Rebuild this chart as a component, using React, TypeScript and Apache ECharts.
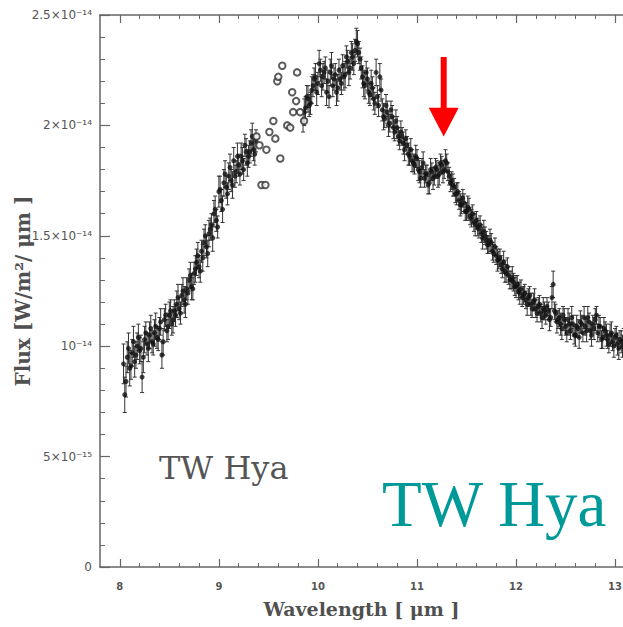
import React, { useEffect, useRef } from "react";
import * as echarts from "echarts";

// Spectrum of TW Hya, flux in units of 1e-14 W/m^2/um (two interleaved samplings)
const wavelengths = [
  8.050, 8.075, 8.100, 8.125, 8.150, 8.175, 8.200, 8.225, 8.250, 8.275,
  8.300, 8.325, 8.350, 8.375, 8.400, 8.425, 8.450, 8.475, 8.500, 8.525,
  8.550, 8.575, 8.600, 8.625, 8.650, 8.675, 8.700, 8.725, 8.750, 8.775,
  8.800, 8.825, 8.850, 8.875, 8.900, 8.925, 8.950, 8.975, 9.000, 9.025,
  9.050, 9.075, 9.100, 9.125, 9.150, 9.175, 9.200, 9.225, 9.250, 9.275,
  9.300, 9.325, 9.350, 9.375,
  9.850, 9.875, 9.900, 9.925, 9.950, 9.975, 10.000, 10.025, 10.050, 10.075,
  10.100, 10.125, 10.150, 10.175, 10.200, 10.225, 10.250, 10.275, 10.300, 10.325,
  10.350, 10.375, 10.400, 10.425, 10.450, 10.475, 10.500, 10.525, 10.550, 10.575,
  10.600, 10.625, 10.650, 10.675, 10.700, 10.725, 10.750, 10.775, 10.800, 10.825,
  10.850, 10.875, 10.900, 10.925, 10.950, 10.975, 11.000, 11.025, 11.050, 11.075,
  11.100, 11.125, 11.150, 11.175, 11.200, 11.225, 11.250, 11.275, 11.300, 11.325,
  11.350, 11.375, 11.400, 11.425, 11.450, 11.475, 11.500, 11.525, 11.550, 11.575,
  11.600, 11.625, 11.650, 11.675, 11.700, 11.725, 11.750, 11.775, 11.800, 11.825,
  11.850, 11.875, 11.900, 11.925, 11.950, 11.975, 12.000, 12.025, 12.050, 12.075,
  12.100, 12.125, 12.150, 12.175, 12.200, 12.225, 12.250, 12.275, 12.300, 12.325,
  12.350, 12.375, 12.400, 12.425, 12.450, 12.475, 12.500, 12.525, 12.550, 12.575,
  12.600, 12.625, 12.650, 12.675, 12.700, 12.725, 12.750, 12.775, 12.800, 12.825,
  12.850, 12.875, 12.900, 12.925, 12.950, 12.975, 13.000, 13.025, 13.050, 13.075,
  // second sampling
  8.0375, 8.0625, 8.0875, 8.1125, 8.1375, 8.1625, 8.1875, 8.2125, 8.2375, 8.2625,
  8.2875, 8.3125, 8.3375, 8.3625, 8.3875, 8.4125, 8.4375, 8.4625, 8.4875, 8.5125,
  8.5375, 8.5625, 8.5875, 8.6125, 8.6375, 8.6625, 8.6875, 8.7125, 8.7375, 8.7625,
  8.7875, 8.8125, 8.8375, 8.8625, 8.8875, 8.9125, 8.9375, 8.9625, 8.9875, 9.0125,
  9.0375, 9.0625, 9.0875, 9.1125, 9.1375, 9.1625, 9.1875, 9.2125, 9.2375, 9.2625,
  9.2875, 9.3125, 9.3375, 9.3625,
  9.8625, 9.8875, 9.9125, 9.9375, 9.9625, 9.9875, 10.0125, 10.0375, 10.0625, 10.0875,
  10.1125, 10.1375, 10.1625, 10.1875, 10.2125, 10.2375, 10.2625, 10.2875, 10.3125, 10.3375,
  10.3625, 10.3875, 10.4125, 10.4375, 10.4625, 10.4875, 10.5125, 10.5375, 10.5625, 10.5875,
  10.6125, 10.6375, 10.6625, 10.6875, 10.7125, 10.7375, 10.7625, 10.7875, 10.8125, 10.8375,
  10.8625, 10.8875, 10.9125, 10.9375, 10.9625, 10.9875, 11.0125, 11.0375, 11.0625, 11.0875,
  11.1125, 11.1375, 11.1625, 11.1875, 11.2125, 11.2375, 11.2625, 11.2875, 11.3125, 11.3375,
  11.3625, 11.3875, 11.4125, 11.4375, 11.4625, 11.4875, 11.5125, 11.5375, 11.5625, 11.5875,
  11.6125, 11.6375, 11.6625, 11.6875, 11.7125, 11.7375, 11.7625, 11.7875, 11.8125, 11.8375,
  11.8625, 11.8875, 11.9125, 11.9375, 11.9625, 11.9875, 12.0125, 12.0375, 12.0625, 12.0875,
  12.1125, 12.1375, 12.1625, 12.1875, 12.2125, 12.2375, 12.2625, 12.2875, 12.3125, 12.3375,
  12.3625, 12.3875, 12.4125, 12.4375, 12.4625, 12.4875, 12.5125, 12.5375, 12.5625, 12.5875,
  12.6125, 12.6375, 12.6625, 12.6875, 12.7125, 12.7375, 12.7625, 12.7875, 12.8125, 12.8375,
  12.8625, 12.8875, 12.9125, 12.9375, 12.9625, 12.9875, 13.0125, 13.0375, 13.0625, 13.0875,
];

const fluxes = [
  0.78, 0.95, 0.90, 0.97, 0.93, 1.00, 0.98, 0.86, 1.03, 1.01,
  1.05, 1.02, 1.06, 1.04, 1.08, 0.96, 1.12, 1.07, 1.14, 1.10,
  1.16, 1.19, 1.17, 1.23, 1.21, 1.26, 1.30, 1.27, 1.33, 1.38,
  1.36, 1.43, 1.47, 1.45, 1.51, 1.55, 1.60, 1.57, 1.70, 1.66,
  1.74, 1.72, 1.77, 1.75, 1.84, 1.79, 1.82, 1.86, 1.80, 1.88,
  1.86, 1.92, 1.89, 1.93,
  2.02, 2.08, 2.12, 2.10, 2.18, 2.22, 2.19, 2.25, 2.22, 2.26,
  2.20, 2.24, 2.18, 2.23, 2.17, 2.21, 2.27, 2.23, 2.29, 2.26,
  2.31, 2.34, 2.37, 2.30, 2.22, 2.18, 2.21, 2.14, 2.17, 2.10,
  2.13, 2.22, 2.07, 2.03, 2.06, 2.01, 2.04, 1.97, 1.99, 1.93,
  1.95, 1.89, 1.91, 1.86, 1.84, 1.82, 1.85, 1.79, 1.81, 1.76,
  1.78, 1.74, 1.79, 1.77, 1.80, 1.78, 1.82, 1.80, 1.83, 1.77,
  1.75, 1.72, 1.69, 1.66, 1.64, 1.65, 1.61, 1.62, 1.58, 1.56,
  1.57, 1.53, 1.51, 1.52, 1.48, 1.46, 1.47, 1.42, 1.41, 1.39,
  1.37, 1.38, 1.33, 1.32, 1.30, 1.29, 1.27, 1.25, 1.26, 1.23,
  1.21, 1.22, 1.19, 1.20, 1.17, 1.18, 1.15, 1.17, 1.14, 1.16,
  1.13, 1.28, 1.15, 1.12, 1.10, 1.14, 1.09, 1.12, 1.07, 1.10,
  1.05, 1.08, 1.11, 1.06, 1.09, 1.13, 1.07, 1.10, 1.12, 1.06,
  1.09, 1.04, 1.07, 1.03, 1.05, 1.02, 1.04, 1.01, 1.03, 1.00,
  // second sampling
  0.92, 0.84, 0.99, 0.91, 1.02, 0.96, 1.04, 0.99, 0.95, 1.06,
  0.99, 1.08, 1.01, 1.09, 1.03, 1.11, 1.02, 1.14, 1.09, 1.16,
  1.12, 1.14, 1.22, 1.15, 1.25, 1.19, 1.24, 1.32, 1.26, 1.35,
  1.41, 1.34, 1.40, 1.50, 1.42, 1.53, 1.49, 1.62, 1.54, 1.71,
  1.62, 1.78, 1.69, 1.81, 1.73, 1.77, 1.86, 1.78, 1.84, 1.91,
  1.83, 1.88, 1.95, 1.87,
  2.06, 2.13, 2.09, 2.16, 2.21, 2.15, 2.28, 2.18, 2.24, 2.15,
  2.13, 2.27, 2.21, 2.15, 2.25, 2.19, 2.22, 2.31, 2.24, 2.33,
  2.28, 2.38, 2.33, 2.26, 2.19, 2.24, 2.15, 2.19, 2.12, 2.24,
  2.09, 2.16, 2.04, 2.09, 2.00, 2.07, 1.99, 2.02, 1.95, 1.97,
  1.92, 1.94, 1.87, 1.89, 1.83, 1.86, 1.80, 1.76, 1.83, 1.78,
  1.73, 1.80, 1.76, 1.81, 1.77, 1.83, 1.79, 1.84, 1.79, 1.74,
  1.73, 1.69, 1.70, 1.64, 1.67, 1.61, 1.63, 1.59, 1.60, 1.55,
  1.54, 1.55, 1.49, 1.50, 1.46, 1.48, 1.43, 1.45, 1.39, 1.40,
  1.35, 1.34, 1.36, 1.30, 1.31, 1.27, 1.28, 1.24, 1.22, 1.24,
  1.19, 1.23, 1.17, 1.21, 1.15, 1.19, 1.13, 1.16, 1.18, 1.12,
  1.22, 1.16, 1.11, 1.13, 1.08, 1.12, 1.06, 1.10, 1.13, 1.05,
  1.09, 1.04, 1.10, 1.13, 1.07, 1.11, 1.05, 1.08, 1.14, 1.09,
  1.03, 1.08, 1.05, 1.01, 1.06, 1.00, 1.05, 0.99, 1.02, 1.04,
];

const fluxErrors = [
  0.08, 0.07, 0.08, 0.06, 0.07, 0.06, 0.06, 0.07, 0.06, 0.05,
  0.06, 0.05, 0.06, 0.05, 0.05, 0.06, 0.05, 0.05, 0.06, 0.05,
  0.05, 0.06, 0.05, 0.05, 0.06, 0.05, 0.05, 0.06, 0.05, 0.06,
  0.05, 0.05, 0.06, 0.05, 0.06, 0.05, 0.06, 0.05, 0.07, 0.05,
  0.06, 0.05, 0.06, 0.05, 0.06, 0.05, 0.05, 0.06, 0.05, 0.06,
  0.05, 0.06, 0.05, 0.05,
  0.05, 0.05, 0.06, 0.05, 0.05, 0.06, 0.05, 0.05, 0.06, 0.05,
  0.05, 0.06, 0.05, 0.05, 0.06, 0.05, 0.05, 0.06, 0.05, 0.05,
  0.06, 0.05, 0.06, 0.05, 0.05, 0.06, 0.05, 0.05, 0.05, 0.05,
  0.05, 0.06, 0.05, 0.04, 0.05, 0.04, 0.05, 0.04, 0.05, 0.04,
  0.04, 0.05, 0.04, 0.04, 0.05, 0.04, 0.04, 0.05, 0.04, 0.04,
  0.04, 0.05, 0.04, 0.04, 0.04, 0.05, 0.04, 0.04, 0.04, 0.04,
  0.04, 0.04, 0.05, 0.04, 0.04, 0.04, 0.04, 0.05, 0.04, 0.04,
  0.04, 0.04, 0.04, 0.05, 0.04, 0.04, 0.04, 0.04, 0.04, 0.04,
  0.04, 0.05, 0.04, 0.04, 0.04, 0.04, 0.05, 0.04, 0.04, 0.04,
  0.04, 0.04, 0.05, 0.04, 0.04, 0.04, 0.04, 0.05, 0.04, 0.04,
  0.04, 0.06, 0.04, 0.04, 0.05, 0.04, 0.04, 0.05, 0.04, 0.04,
  0.05, 0.04, 0.05, 0.04, 0.04, 0.05, 0.04, 0.04, 0.05, 0.04,
  0.04, 0.05, 0.04, 0.04, 0.05, 0.04, 0.04, 0.05, 0.04, 0.05,
  // second sampling
  0.09, 0.07, 0.07, 0.06, 0.07, 0.06, 0.06, 0.06, 0.07, 0.05,
  0.06, 0.06, 0.05, 0.06, 0.05, 0.06, 0.06, 0.05, 0.06, 0.05,
  0.06, 0.05, 0.06, 0.05, 0.06, 0.06, 0.05, 0.06, 0.05, 0.06,
  0.06, 0.05, 0.06, 0.05, 0.06, 0.05, 0.06, 0.06, 0.05, 0.06,
  0.06, 0.06, 0.05, 0.06, 0.06, 0.05, 0.06, 0.05, 0.06, 0.05,
  0.06, 0.05, 0.06, 0.05,
  0.06, 0.05, 0.05, 0.06, 0.05, 0.06, 0.06, 0.05, 0.05, 0.06,
  0.05, 0.06, 0.05, 0.06, 0.05, 0.05, 0.06, 0.05, 0.06, 0.05,
  0.05, 0.06, 0.05, 0.05, 0.06, 0.05, 0.05, 0.06, 0.05, 0.06,
  0.05, 0.05, 0.06, 0.05, 0.05, 0.04, 0.05, 0.05, 0.04, 0.05,
  0.05, 0.04, 0.05, 0.05, 0.04, 0.05, 0.05, 0.04, 0.05, 0.04,
  0.04, 0.05, 0.05, 0.04, 0.05, 0.04, 0.05, 0.05, 0.04, 0.04,
  0.05, 0.04, 0.04, 0.05, 0.04, 0.04, 0.05, 0.04, 0.04, 0.05,
  0.04, 0.04, 0.05, 0.04, 0.04, 0.05, 0.04, 0.04, 0.05, 0.04,
  0.04, 0.05, 0.04, 0.04, 0.05, 0.04, 0.04, 0.05, 0.04, 0.04,
  0.05, 0.04, 0.04, 0.05, 0.04, 0.04, 0.05, 0.04, 0.04, 0.05,
  0.05, 0.04, 0.05, 0.04, 0.05, 0.05, 0.04, 0.05, 0.05, 0.04,
  0.05, 0.05, 0.04, 0.05, 0.05, 0.04, 0.05, 0.05, 0.04, 0.05,
  0.04, 0.05, 0.05, 0.04, 0.05, 0.05, 0.04, 0.05, 0.05, 0.04,
];

// Points inside the telluric ozone band, drawn as open circles
const ozoneWavelengths = [
  9.38, 9.41, 9.43, 9.47, 9.48, 9.51, 9.55, 9.57, 9.59, 9.60,
  9.62, 9.64, 9.69, 9.72, 9.74, 9.75, 9.78, 9.79, 9.82, 9.86,
];
const ozoneFluxes = [
  1.95, 1.91, 1.73, 1.73, 1.89, 1.97, 2.02, 1.94, 2.20, 2.22,
  1.85, 2.27, 2.00, 1.99, 2.15, 2.06, 2.11, 2.24, 2.06, 2.02,
];

const xMajorTicks = [8, 9, 10, 11, 12, 13];
const xMinorTicks = [
  8.2, 8.4, 8.6, 8.8, 9.2, 9.4, 9.6, 9.8, 10.2, 10.4, 10.6, 10.8,
  11.2, 11.4, 11.6, 11.8, 12.2, 12.4, 12.6, 12.8,
];
const yTickValues = [0, 0.5, 1, 1.5, 2, 2.5];
const yTickLabels = ["0", "5×10⁻¹⁵", "10⁻¹⁴", "1.5×10⁻¹⁴", "2×10⁻¹⁴", "2.5×10⁻¹⁴"];

// 11.3 um PAH feature marker
const featureWavelength = 11.27;
const arrowFluxTop = 2.31;
const arrowFluxHead = 2.08;
const arrowFluxTip = 1.95;

const AXIS_COLOR = "#666";
const TEXT_COLOR = "#505050";
const SERIF = "'DejaVu Serif', serif";

export default function App() {
  const ref = useRef<HTMLDivElement>(null);

  useEffect(() => {
    if (!ref.current) return;
    const chart = echarts.init(ref.current, undefined, { renderer: "svg" });

    const baseX = {
      type: "value" as const,
      min: 7.8,
      max: 13.08,
      gridIndex: 0,
      splitLine: { show: false },
    };

    const option: any = {
      animation: false,
      backgroundColor: "#fff",
      grid: {
        left: 100,
        right: 0,
        top: 15,
        bottom: 60,
        containLabel: false,
        outerBoundsMode: "none",
      },
      xAxis: [
        {
          ...baseX,
          position: "bottom",
          axisLine: { show: true, lineStyle: { color: AXIS_COLOR, width: 1.5 } },
          axisTick: { inside: true, length: 8, customValues: xMajorTicks, lineStyle: { color: AXIS_COLOR, width: 1.2 } },
          axisLabel: {
            customValues: xMajorTicks,
            margin: 14,
            fontSize: 10,
            fontFamily: "'DejaVu Sans', sans-serif",
            fontWeight: "bold",
            color: "#555",
          },
          name: "Wavelength [ μm ]",
          nameLocation: "middle",
          nameGap: 32,
          nameMoveOverlap: false,
          nameTextStyle: { fontFamily: SERIF, fontSize: 19, fontWeight: "bold", color: TEXT_COLOR },
        },
        {
          ...baseX,
          position: "bottom",
          axisLine: { show: false },
          axisTick: { inside: true, length: 4, customValues: xMinorTicks, lineStyle: { color: AXIS_COLOR, width: 1 } },
          axisLabel: { show: false },
        },
        {
          ...baseX,
          position: "top",
          axisLine: { show: true, lineStyle: { color: AXIS_COLOR, width: 1.5 } },
          axisTick: { inside: true, length: 8, customValues: xMajorTicks, lineStyle: { color: AXIS_COLOR, width: 1.2 } },
          axisLabel: { show: false },
        },
        {
          ...baseX,
          position: "top",
          axisLine: { show: false },
          axisTick: { inside: true, length: 4, customValues: xMinorTicks, lineStyle: { color: AXIS_COLOR, width: 1 } },
          axisLabel: { show: false },
        },
      ],
      yAxis: [
        {
          type: "value",
          min: 0,
          max: 2.5,
          interval: 0.5,
          position: "left",
          splitLine: { show: false },
          axisLine: { show: true, lineStyle: { color: AXIS_COLOR, width: 1.5 } },
          axisTick: { inside: true, length: 10, lineStyle: { color: AXIS_COLOR, width: 1.2 } },
          minorTick: { show: true, splitNumber: 5, length: 5, lineStyle: { color: AXIS_COLOR, width: 1 } },
          axisLabel: {
            margin: 8,
            fontSize: 12,
            fontFamily: "'DejaVu Sans', sans-serif",
            color: "#555",
            formatter: (v: number) => {
              const i = yTickValues.findIndex((t) => Math.abs(t - v) < 1e-6);
              return i >= 0 ? yTickLabels[i] : "";
            },
          },
          name: "Flux [W/m²/ μm ]",
          nameLocation: "middle",
          nameGap: 67,
          nameMoveOverlap: false,
          nameTextStyle: { fontFamily: SERIF, fontSize: 20, fontWeight: "bold", color: TEXT_COLOR },
        },
      ],
      series: [
        {
          name: "errors",
          type: "custom",
          xAxisIndex: 0,
          yAxisIndex: 0,
          data: wavelengths.map((w, i) => [w, fluxes[i], fluxErrors[i]]),
          renderItem: (params: any, api: any) => {
            const x = api.value(0);
            const y = api.value(1);
            const e = api.value(2);
            const hi = api.coord([x, y + e]);
            const lo = api.coord([x, y - e]);
            const cap = 2;
            const style = { stroke: "#333", lineWidth: 1 };
            return {
              type: "group",
              children: [
                { type: "line", shape: { x1: hi[0], y1: hi[1], x2: lo[0], y2: lo[1] }, style },
                { type: "line", shape: { x1: hi[0] - cap, y1: hi[1], x2: hi[0] + cap, y2: hi[1] }, style },
                { type: "line", shape: { x1: lo[0] - cap, y1: lo[1], x2: lo[0] + cap, y2: lo[1] }, style },
              ],
            };
          },
          z: 2,
        },
        {
          name: "flux",
          type: "scatter",
          xAxisIndex: 0,
          yAxisIndex: 0,
          symbol: "circle",
          symbolSize: 5,
          itemStyle: { color: "#111" },
          data: wavelengths.map((w, i) => [w, fluxes[i]]),
          z: 3,
        },
        {
          name: "ozone",
          type: "scatter",
          xAxisIndex: 0,
          yAxisIndex: 0,
          symbol: "emptyCircle",
          symbolSize: 6.5,
          itemStyle: { color: "#333", borderWidth: 1.3 },
          data: ozoneWavelengths.map((w, i) => [w, ozoneFluxes[i]]),
          z: 4,
        },
      ],
    };

    chart.setOption(option);

    const top = chart.convertToPixel({ xAxisIndex: 0, yAxisIndex: 0 }, [featureWavelength, arrowFluxTop]);
    const head = chart.convertToPixel({ xAxisIndex: 0, yAxisIndex: 0 }, [featureWavelength, arrowFluxHead]);
    const tip = chart.convertToPixel({ xAxisIndex: 0, yAxisIndex: 0 }, [featureWavelength, arrowFluxTip]);
    const shaftHalf = 3;
    const headHalf = 15;

    chart.setOption({
      graphic: [
        {
          type: "rect",
          shape: { x: top[0] - shaftHalf, y: top[1], width: shaftHalf * 2, height: head[1] - top[1] + 1 },
          style: { fill: "#ff0000" },
          z: 10,
        },
        {
          type: "polygon",
          shape: {
            points: [
              [head[0] - headHalf, head[1]],
              [head[0] + headHalf, head[1]],
              [tip[0], tip[1]],
            ],
          },
          style: { fill: "#ff0000" },
          z: 10,
        },
        {
          type: "text",
          x: 159,
          y: 452,
          style: {
            text: "TW Hya",
            fontFamily: SERIF,
            fontSize: 32,
            fill: "#555",
            verticalAlign: "top",
          },
          z: 10,
        },
        {
          type: "text",
          x: 382,
          y: 471,
          style: {
            text: "TW Hya",
            fontFamily: "'Liberation Serif', 'Times New Roman', serif",
            fontSize: 65,
            fill: "#009999",
            verticalAlign: "top",
          },
          z: 10,
        },
      ],
    });

    return () => chart.dispose();
  }, []);

  return (
    <div
      ref={ref}
      style={{ position: "fixed", left: 0, top: 0, width: 623, height: 627 }}
    />
  );
}
